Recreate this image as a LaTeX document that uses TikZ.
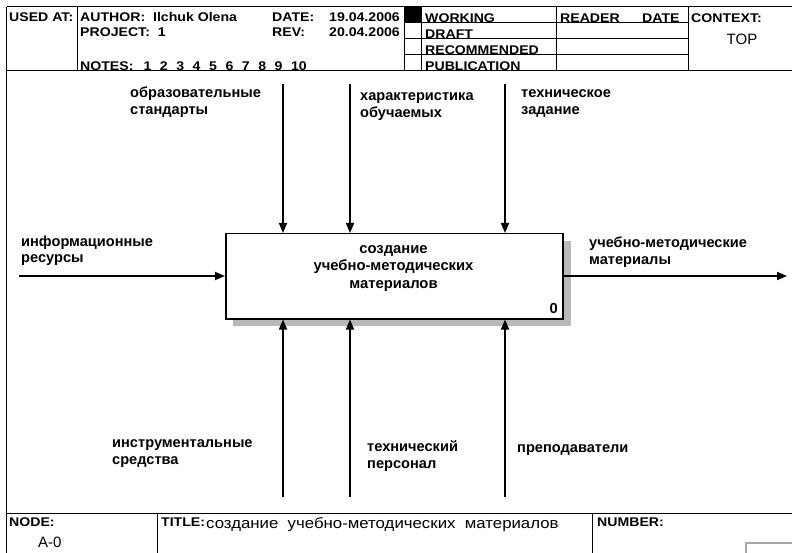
\documentclass[tikz,border=0pt]{standalone}
\usepackage{fontspec}
\setmainfont{Liberation Sans}
\newfontfamily\widesans[FakeStretch=1.12]{Liberation Sans}
\usetikzlibrary{arrows.meta}
\begin{document}
\begin{tikzpicture}[x=1pt,y=-1pt,
  frame/.style={line width=1pt},
  flow/.style={line width=1.7pt,-{Triangle[length=10pt,width=8pt]}},
  % multi-line labels: the base anchor sits on the last line
  lbl/.style={anchor=base west,inner sep=0pt,align=left,
    font=\fontsize{14.6}{17}\selectfont\bfseries},
  hdr/.style={anchor=base west,inner sep=0pt,
    font=\widesans\fontsize{12.6}{14}\selectfont\bfseries},
  plain/.style={anchor=base west,inner sep=0pt,
    font=\fontsize{15}{17}\selectfont},
  actbox/.style={draw,line width=1.5pt,fill=white,minimum width=337pt,
    minimum height=85pt,inner sep=0pt,anchor=north west},
  shadow/.style={fill=gray!55},
]
\useasboundingbox (0,0) rectangle (792,553);

% ---------- form frame ----------
\draw[frame] (6.5,7) -- (792,7);
\draw[frame] (6.5,71) -- (792,71);
\draw[frame] (6.5,513) -- (792,513);
\draw[frame] (6.5,7) -- (6.5,553);
\draw[frame] (77,7) -- (77,71);
\draw[frame] (404,7) -- (404,71);
\draw[frame] (421,7) -- (421,71);
\draw[frame] (556,7) -- (556,71);
\draw[frame] (688,7) -- (688,71);
\foreach \y in {23,39,55} \draw[frame] (404,\y) -- (688,\y);
\fill (404,7) rectangle (421,22);
\draw[frame] (157,513) -- (157,553);
\draw[frame] (592,513) -- (592,553);
\draw[line width=1.5pt,gray!70] (746,553) -- (746,543) -- (792,543);

% ---------- header texts ----------
\node[hdr] (usedat) at (9,21.5) {USED AT:};
\node[hdr] (author) at (80,21.5) {AUTHOR:\ \ Ilchuk Olena};
\node[hdr] (project) at (80,36.5) {PROJECT:\ \ 1};
\node[hdr] (date) at (272,21.5) {DATE:};
\node[hdr,anchor=base east] (dateval) at (400,21.5) {19.04.2006};
\node[hdr] (rev) at (272,36.5) {REV:};
\node[hdr,anchor=base east] (revval) at (400,36.5) {20.04.2006};
\node[hdr] (notes) at (80,70.5) {NOTES:};
\foreach \n [count=\i from 0] in {1,...,10}
  \node[hdr] (note\n) at (143.3+16.4*\i,70.5) {\n};
\node[hdr] (working) at (425,22.5) {WORKING};
\node[hdr] (draft) at (425,38.5) {DRAFT};
\node[hdr] (recommended) at (425,54.5) {RECOMMENDED};
\node[hdr] (publication) at (425,70.5) {PUBLICATION};
\node[hdr] (reader) at (560,22.5) {READER};
\node[hdr] (rdate) at (642,22.5) {DATE};
\node[hdr] (context) at (691,22.5) {CONTEXT:};
\node[plain,anchor=base] (top) at (742,45) {TOP};

% ---------- footer texts ----------
\node[hdr] (nodelbl) at (9,526) {NODE:};
\node[plain] (nodeval) at (38,547) {A-0};
\node[hdr] (titlelbl) at (161,526) {TITLE:};
\node[plain,font=\widesans\fontsize{15}{17}\selectfont] (titleval) at (206,528)
  {создание\ \ учебно-методических\ \ материалов};
\node[hdr] (numberlbl) at (597,526) {NUMBER:};

% ---------- activity ----------
\fill[shadow] (233,241) rectangle (571,326);
\node[actbox] (a0) at (225,233) {};
\node[anchor=base,inner sep=0pt,align=center,
  font=\fontsize{14.8}{17.5}\selectfont\bfseries] (a0text) at (393.5,288)
  {создание\\учебно-методических\\материалов};
\node[anchor=base east,inner sep=0pt,font=\fontsize{14.6}{17}\selectfont\bfseries]
  (a0num) at (558,313) {0};

% ---------- ICOM arrows ----------
\coordinate (in1) at (19,276);
\coordinate (out1) at (787,276);
\coordinate (c1) at (283,84);
\coordinate (c2) at (350,84);
\coordinate (c3) at (505,84);
\coordinate (m1) at (283,497);
\coordinate (m2) at (350,497);
\coordinate (m3) at (505,497);

\draw[flow] (in1) -- (in1 -| a0.west);
\draw[flow] (out1 -| a0.east) -- (out1);
\draw[flow] (c1) -- (c1 |- a0.north);
\draw[flow] (c2) -- (c2 |- a0.north);
\draw[flow] (c3) -- (c3 |- a0.north);
\draw[flow] (m1) -- (m1 |- a0.south);
\draw[flow] (m2) -- (m2 |- a0.south);
\draw[flow] (m3) -- (m3 |- a0.south);

% ---------- arrow labels ----------
\node[lbl] (lin1) at (21,263) {информационные\\ресурсы};
\node[lbl] (lout1) at (589,265) {учебно-методические\\материалы};
\node[lbl] (lc1) at (130,115) {образовательные\\стандарты};
\node[lbl] (lc2) at (360,118) {характеристика\\обучаемых};
\node[lbl] (lc3) at (521,115) {техническое\\задание};
\node[lbl] (lm1) at (112,464) {инструментальные\\средства};
\node[lbl] (lm2) at (367,468) {технический\\персонал};
\node[lbl] (lm3) at (517,452) {преподаватели};
\end{tikzpicture}
\end{document}
